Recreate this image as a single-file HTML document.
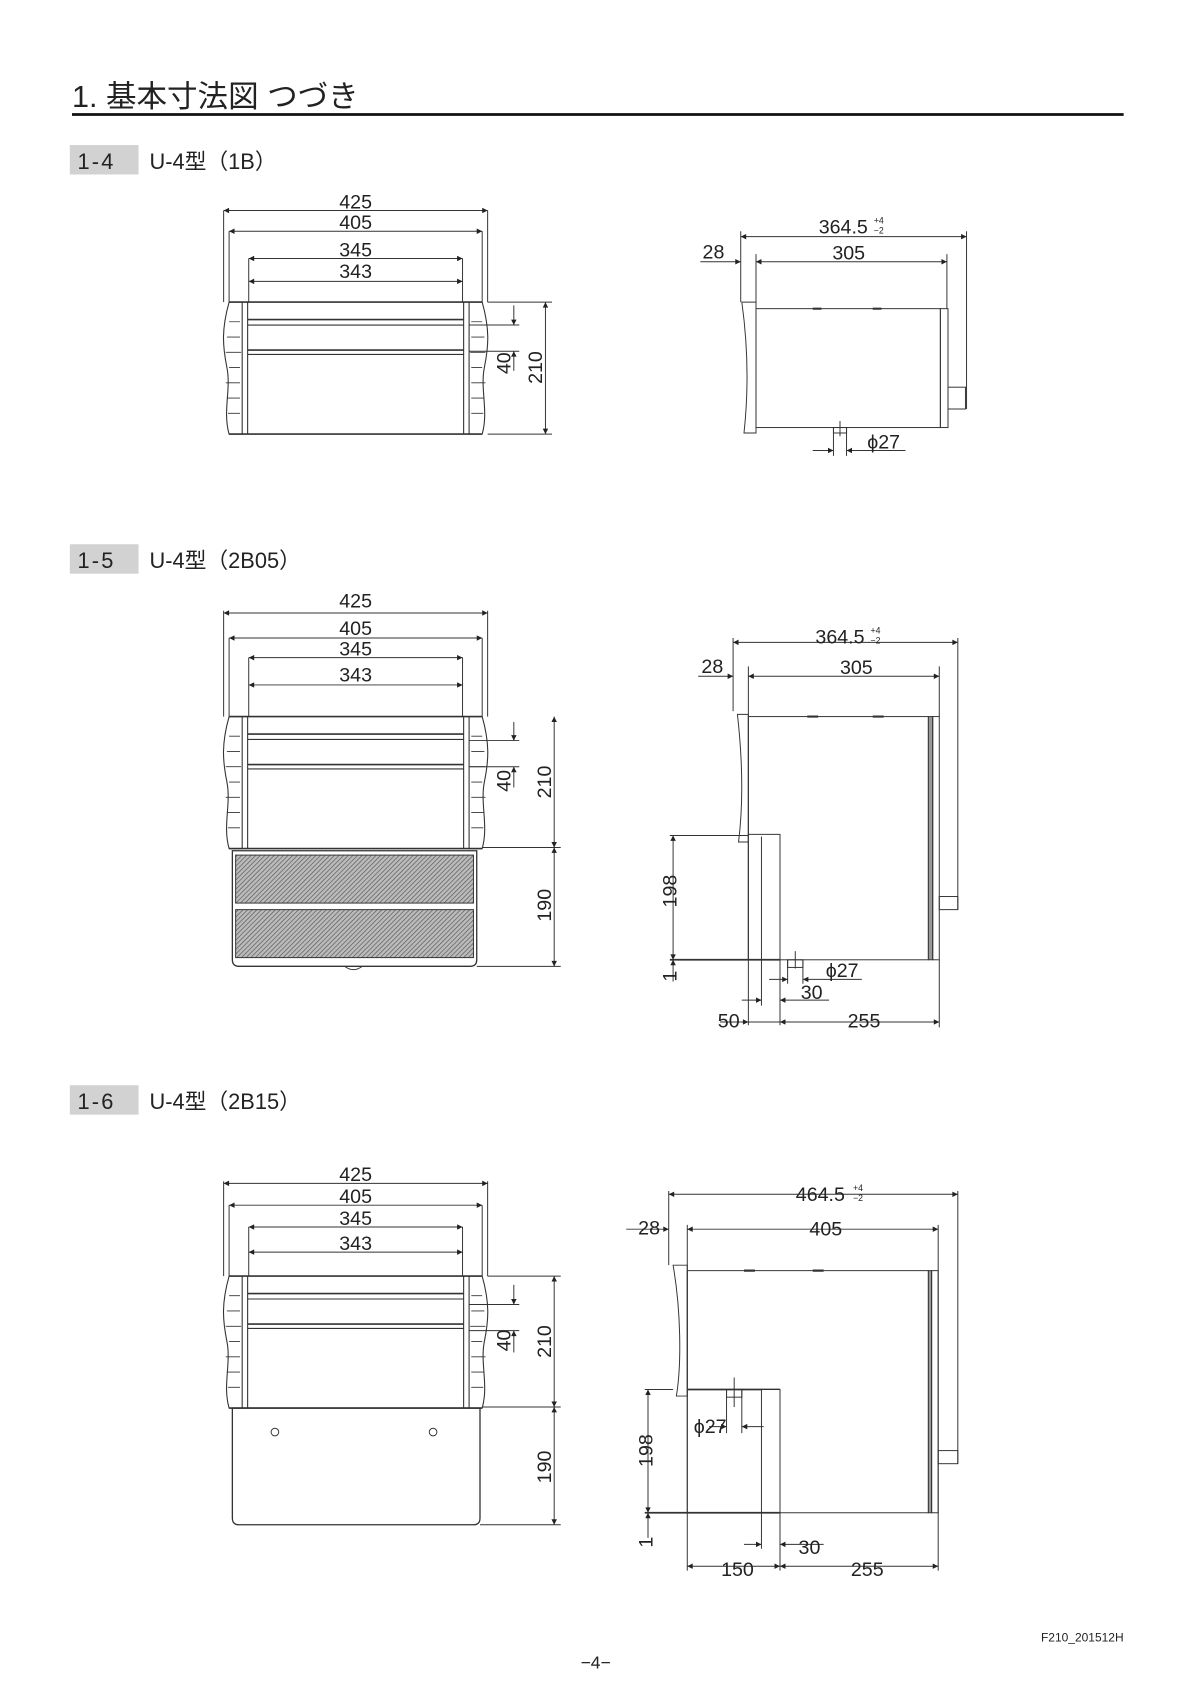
<!DOCTYPE html>
<html><head><meta charset="utf-8"><style>
html,body{margin:0;padding:0;background:#fff;}
svg{display:block;}
text{font-family:"Liberation Sans","Noto Sans CJK JP",sans-serif;fill:#222;}
</style></head><body>
<svg width="1200" height="1696" viewBox="0 0 1100 1555" preserveAspectRatio="none" xmlns="http://www.w3.org/2000/svg">
<defs>
<marker id="a" viewBox="0 0 10 10" refX="10" refY="5" markerWidth="7" markerHeight="5" orient="auto-start-reverse" markerUnits="userSpaceOnUse"><path d="M0,0 L10,5 L0,10 z" fill="#222"/></marker>
<pattern id="h" width="3" height="3" patternUnits="userSpaceOnUse" patternTransform="rotate(45)"><rect width="3" height="3" fill="#bbb"/><line x1="0" y1="0" x2="0" y2="3" stroke="#555" stroke-width="1.2"/></pattern>
<g id="fu" fill="none" stroke="#333" stroke-width="1">
  <path d="M210,0 C203,25 204,40 208,60 C212,80 204,100 210,121 L222,121 L222,0 Z" fill="#fff"/>
  <path d="M210,18 h10 M208,32 h12 M207,46 h14 M210,60 h10 M207,74 h13 M208,88 h12 M209,102 h11" stroke-width=".8"/>
  <path d="M442,0 C449,25 448,40 444,60 C440,80 448,100 442,121 L430,121 L430,0 Z" fill="#fff"/>
  <path d="M442,18 h-10 M444,32 h-12 M445,46 h-14 M442,60 h-10 M445,74 h-13 M444,88 h-12 M443,102 h-11" stroke-width=".8"/>
  <line x1="210" y1="0" x2="442" y2="0" stroke-width="1.5"/>
  <line x1="210" y1="121" x2="442" y2="121" stroke-width="1.5"/>
  <line x1="227" y1="0" x2="227" y2="121"/>
  <line x1="425" y1="0" x2="425" y2="121"/>
  <line x1="227" y1="16" x2="425" y2="16" stroke-width="1.5"/>
  <line x1="227" y1="21" x2="425" y2="21"/>
  <line x1="227" y1="44" x2="425" y2="44" stroke-width="1.5"/>
  <line x1="227" y1="48" x2="425" y2="48"/>
</g>
</defs>

<text x="66" y="98" font-size="28">1. 基本寸法図 つづき</text>
<line x1="66" y1="105" x2="1030" y2="105" stroke="#111" stroke-width="2.5"/>

<g font-size="20">
<rect x="64" y="133" width="63" height="27" fill="#d2d2d2"/><text x="71" y="155" letter-spacing="2">1-4</text><text x="137" y="155">U-4型（1B）</text>
<rect x="64" y="499" width="63" height="27" fill="#d2d2d2"/><text x="71" y="521" letter-spacing="2">1-5</text><text x="137" y="521">U-4型（2B05）</text>
<rect x="64" y="995" width="63" height="27" fill="#d2d2d2"/><text x="71" y="1017" letter-spacing="2">1-6</text><text x="137" y="1017">U-4型（2B15）</text>
</g>

<g stroke="#333" stroke-width="0.9" fill="none">
<use href="#fu" transform="translate(0,277)"/>
<path d="M205,193 V277 M447,193 V277 M210,212 V277 M442,212 V277 M228,237 V277 M424,237 V277"/>
<line x1="205" y1="193" x2="447" y2="193" marker-start="url(#a)" marker-end="url(#a)"/>
<line x1="210" y1="212" x2="442" y2="212" marker-start="url(#a)" marker-end="url(#a)"/>
<line x1="228" y1="237" x2="424" y2="237" marker-start="url(#a)" marker-end="url(#a)"/>
<line x1="228" y1="258" x2="424" y2="258" marker-start="url(#a)" marker-end="url(#a)"/>
<path d="M447,277 H506 M447,398 H506 M430,298 H476 M430,322 H476"/>
<line x1="500" y1="277" x2="500" y2="398" marker-start="url(#a)" marker-end="url(#a)"/>
<line x1="471" y1="280" x2="471" y2="298" marker-end="url(#a)"/>
<line x1="471" y1="340" x2="471" y2="322" marker-end="url(#a)"/>

<path d="M680,277 H693 V397 H682 C686,360 686,320 680,277 Z"/>
<rect x="693" y="283" width="169" height="109"/>
<rect x="862" y="283" width="7" height="109"/>
<rect x="869" y="355" width="16" height="20"/>
<path d="M745,283 h8 M800,283 h8" stroke-width="2"/>
<path d="M679,212 V277 M693,233 V283 M868,233 V283 M886,212 V375"/>
<line x1="679" y1="217" x2="886" y2="217" marker-start="url(#a)" marker-end="url(#a)"/>
<line x1="693" y1="240" x2="868" y2="240" marker-start="url(#a)" marker-end="url(#a)"/>
<line x1="642" y1="240" x2="679" y2="240" marker-end="url(#a)"/>
<rect x="764" y="392" width="12" height="5"/>
<path d="M770,386 V400 M764,392 V418 M776,392 V418"/>
<line x1="745" y1="413" x2="764" y2="413" marker-end="url(#a)"/>
<line x1="830" y1="413" x2="776" y2="413" marker-end="url(#a)"/>

<use href="#fu" transform="translate(0,657)"/>
<path d="M205,560 V657 M447,560 V657 M210,585 V657 M442,585 V657 M228,603 V657 M424,603 V657"/>
<line x1="205" y1="562" x2="447" y2="562" marker-start="url(#a)" marker-end="url(#a)"/>
<line x1="210" y1="585" x2="442" y2="585" marker-start="url(#a)" marker-end="url(#a)"/>
<line x1="228" y1="603" x2="424" y2="603" marker-start="url(#a)" marker-end="url(#a)"/>
<line x1="228" y1="628" x2="424" y2="628" marker-start="url(#a)" marker-end="url(#a)"/>
<path d="M213,780 H437 V880 Q437,886 431,886 H219 Q213,886 213,880 Z" stroke-width="1.2"/>
<rect x="216" y="784" width="218" height="44" fill="url(#h)" stroke="#333"/>
<rect x="216" y="834" width="218" height="44" fill="url(#h)" stroke="#333"/>
<path d="M316,886 Q324,892 332,886"/>
<path d="M442,777 H514 M437,886 H514 M430,679 H476 M430,703 H476"/>
<line x1="508" y1="657" x2="508" y2="777" marker-start="url(#a)" marker-end="url(#a)"/>
<line x1="508" y1="777" x2="508" y2="886" marker-start="url(#a)" marker-end="url(#a)"/>
<line x1="471" y1="662" x2="471" y2="679" marker-end="url(#a)"/>
<line x1="471" y1="722" x2="471" y2="703" marker-end="url(#a)"/>

<path d="M676,655 H686 V772 H677 C681,740 681,700 676,655 Z"/>
<rect x="686" y="657" width="165" height="223"/>
<rect x="851" y="657" width="4" height="223" fill="#999"/>
<rect x="855" y="657" width="6" height="223"/>
<rect x="861" y="822" width="17" height="12"/>
<path d="M740,657 h10 M800,657 h10" stroke-width="2"/>
<rect x="686" y="765" width="29" height="115" fill="#fff"/>
<line x1="698" y1="767" x2="698" y2="880"/>
<line x1="614" y1="880" x2="715" y2="880" stroke-width="1.6"/>
<line x1="614" y1="766" x2="686" y2="766"/>
<path d="M672,585 V652 M686,611 V940 M861,611 V657 M878,585 V834 M715,880 V940 M698,880 V922"/>
<line x1="672" y1="589" x2="878" y2="589" marker-start="url(#a)" marker-end="url(#a)"/>
<line x1="686" y1="620" x2="861" y2="620" marker-start="url(#a)" marker-end="url(#a)"/>
<line x1="640" y1="620" x2="672" y2="620" marker-end="url(#a)"/>
<line x1="617" y1="766" x2="617" y2="880" marker-start="url(#a)" marker-end="url(#a)"/>
<line x1="617" y1="900" x2="617" y2="880" marker-end="url(#a)"/>
<rect x="722" y="880" width="14" height="7"/>
<path d="M729,872 V888 M722,880 V902 M736,880 V902"/>
<line x1="705" y1="898" x2="722" y2="898" marker-end="url(#a)"/>
<line x1="790" y1="898" x2="736" y2="898" marker-end="url(#a)"/>
<line x1="680" y1="917" x2="698" y2="917" marker-end="url(#a)"/>
<line x1="760" y1="917" x2="715" y2="917" marker-end="url(#a)"/>
<line x1="660" y1="937" x2="686" y2="937" marker-end="url(#a)"/>
<line x1="715" y1="937" x2="861" y2="937" marker-start="url(#a)" marker-end="url(#a)"/>
<line x1="861" y1="880" x2="861" y2="942"/>
<line x1="686" y1="937" x2="715" y2="937"/>

<use href="#fu" transform="translate(0,1170)"/>
<path d="M205,1083 V1170 M447,1083 V1170 M210,1105 V1170 M442,1105 V1170 M228,1125 V1170 M424,1125 V1170"/>
<line x1="205" y1="1085" x2="447" y2="1085" marker-start="url(#a)" marker-end="url(#a)"/>
<line x1="210" y1="1105" x2="442" y2="1105" marker-start="url(#a)" marker-end="url(#a)"/>
<line x1="228" y1="1125" x2="424" y2="1125" marker-start="url(#a)" marker-end="url(#a)"/>
<line x1="228" y1="1148" x2="424" y2="1148" marker-start="url(#a)" marker-end="url(#a)"/>
<path d="M213,1291 H440 V1392 Q440,1398 434,1398 H219 Q213,1398 213,1392 Z" stroke-width="1.2"/>
<circle cx="252" cy="1313" r="3.5"/><circle cx="397" cy="1313" r="3.5"/>
<path d="M442,1290 H514 M440,1398 H514 M430,1196 H476 M430,1220 H476 M447,1170 H514"/>
<line x1="508" y1="1170" x2="508" y2="1290" marker-start="url(#a)" marker-end="url(#a)"/>
<line x1="508" y1="1290" x2="508" y2="1398" marker-start="url(#a)" marker-end="url(#a)"/>
<line x1="471" y1="1178" x2="471" y2="1196" marker-end="url(#a)"/>
<line x1="471" y1="1240" x2="471" y2="1220" marker-end="url(#a)"/>

<path d="M617,1160 H630 V1280 H620 C625,1250 624,1200 617,1160 Z"/>
<rect x="630" y="1165" width="221" height="222"/>
<rect x="851" y="1165" width="3" height="222" fill="#999"/>
<rect x="854" y="1165" width="6" height="222"/>
<rect x="860" y="1330" width="18" height="12"/>
<path d="M682,1165 h10 M745,1165 h10" stroke-width="2"/>
<line x1="630" y1="1274" x2="715" y2="1274" stroke-width="1.6"/>
<rect x="698" y="1274" width="17" height="113" fill="#fff"/>
<line x1="591" y1="1387" x2="715" y2="1387" stroke-width="1.6"/>
<line x1="591" y1="1274" x2="617" y2="1274"/>
<rect x="666" y="1274" width="14" height="7"/>
<path d="M673,1263 V1290 M666,1274 V1314 M680,1274 V1314"/>
<line x1="650" y1="1308" x2="666" y2="1308" marker-end="url(#a)"/>
<line x1="700" y1="1308" x2="680" y2="1308" marker-end="url(#a)"/>
<path d="M613,1092 V1160 M630,1123 V1440 M860,1123 V1440 M878,1092 V1342 M715,1387 V1440 M698,1387 V1420"/>
<line x1="613" y1="1095" x2="878" y2="1095" marker-start="url(#a)" marker-end="url(#a)"/>
<line x1="630" y1="1127" x2="860" y2="1127" marker-start="url(#a)" marker-end="url(#a)"/>
<line x1="574" y1="1127" x2="613" y2="1127" marker-end="url(#a)"/>
<line x1="594" y1="1274" x2="594" y2="1387" marker-start="url(#a)" marker-end="url(#a)"/>
<line x1="594" y1="1410" x2="594" y2="1387" marker-end="url(#a)"/>
<line x1="682" y1="1416" x2="698" y2="1416" marker-end="url(#a)"/>
<line x1="755" y1="1416" x2="715" y2="1416" marker-end="url(#a)"/>
<line x1="630" y1="1436" x2="715" y2="1436" marker-start="url(#a)" marker-end="url(#a)"/>
<line x1="715" y1="1436" x2="860" y2="1436" marker-start="url(#a)" marker-end="url(#a)"/>
</g>

<g font-size="18" text-anchor="middle">
<text x="326" y="191">425</text><text x="326" y="210">405</text><text x="326" y="235">345</text><text x="326" y="255">343</text>
<text x="773" y="214">364.5</text>
<text x="654" y="237">28</text><text x="778" y="238">305</text>
<text x="810" y="411">ϕ27</text>
<text transform="translate(497,337) rotate(-90)">210</text>
<text transform="translate(468,333) rotate(-90)">40</text>

<text x="326" y="557">425</text><text x="326" y="582">405</text><text x="326" y="601">345</text><text x="326" y="625">343</text>
<text x="770" y="590">364.5</text>
<text x="653" y="617">28</text><text x="785" y="618">305</text>
<text transform="translate(505,717) rotate(-90)">210</text>
<text transform="translate(505,830) rotate(-90)">190</text>
<text transform="translate(468,716) rotate(-90)">40</text>
<text transform="translate(620,817) rotate(-90)">198</text>
<text transform="translate(620,895) rotate(-90)">1</text>
<text x="772" y="896">ϕ27</text><text x="744" y="916">30</text>
<text x="668" y="942">50</text><text x="792" y="942">255</text>

<text x="326" y="1083">425</text><text x="326" y="1103">405</text><text x="326" y="1123">345</text><text x="326" y="1146">343</text>
<text x="752" y="1101">464.5</text>
<text x="595" y="1132">28</text><text x="757" y="1133">405</text>
<text transform="translate(505,1230) rotate(-90)">210</text>
<text transform="translate(505,1345) rotate(-90)">190</text>
<text transform="translate(468,1229) rotate(-90)">40</text>
<text transform="translate(598,1330) rotate(-90)">198</text>
<text transform="translate(598,1414) rotate(-90)">1</text>
<text x="651" y="1314">ϕ27</text><text x="742" y="1425">30</text>
<text x="676" y="1445">150</text><text x="795" y="1445">255</text>
</g>
<g font-size="8">
<text x="801" y="205">+4</text><text x="801" y="214">−2</text>
<text x="798" y="581">+4</text><text x="798" y="590">−2</text>
<text x="782" y="1092">+4</text><text x="782" y="1101">−2</text>
</g>

<text x="1030" y="1505" font-size="11" text-anchor="end">F210_201512H</text>
<text x="546" y="1530" font-size="16" text-anchor="middle">−4−</text>
</svg>
</body></html>
